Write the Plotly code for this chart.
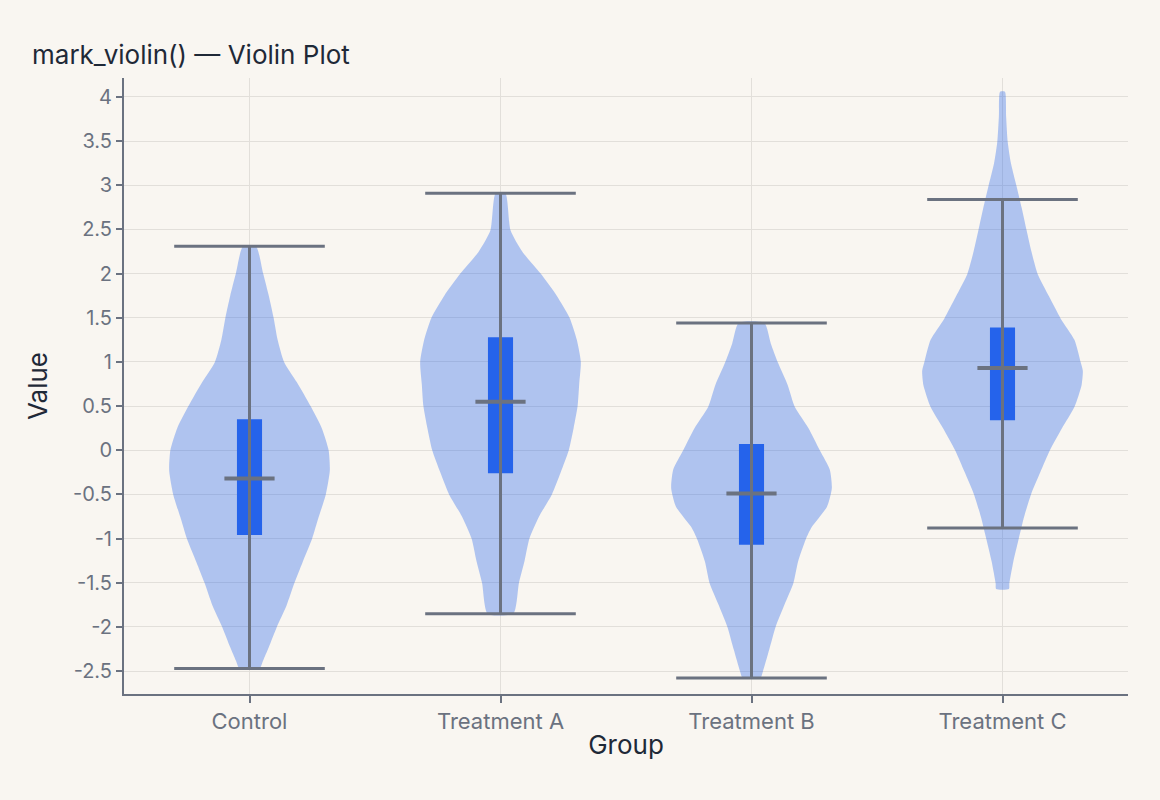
import plotly.graph_objects as go

# ---------------- data ----------------
groups = ["Control", "Treatment A", "Treatment B", "Treatment C"]

# violin density profiles: value levels (top -> bottom) and relative density (0..1)
control_levels = [2.31, 2.0, 1.75, 1.5, 1.25, 1.0, 0.77, 0.5, 0.25, 0.0, -0.23, -0.5, -0.76,
                  -1.0, -1.27, -1.5, -1.76, -2.0, -2.23, -2.38, -2.47]
control_density = [0.08, 0.17, 0.24, 0.30, 0.35, 0.43, 0.59, 0.76, 0.90, 0.985, 1.0, 0.95, 0.86,
                   0.78, 0.66, 0.56, 0.46, 0.34, 0.24, 0.17, 0.125]

treat_a_levels = [2.91, 2.49, 2.25, 2.0, 1.75, 1.5, 1.25, 1.0, 0.75, 0.5, 0.25, 0.0, -0.25,
                  -0.5, -0.75, -1.0, -1.25, -1.5, -1.85]
treat_a_density = [0.06, 0.125, 0.27, 0.50, 0.70, 0.86, 0.95, 1.0, 0.98, 0.96, 0.91, 0.85, 0.75,
                   0.64, 0.48, 0.36, 0.30, 0.23, 0.16]

treat_b_levels = [1.44, 1.21, 0.99, 0.74, 0.49, 0.25, 0.0, -0.22, -0.43, -0.64, -0.87, -1.01,
                  -1.26, -1.51, -1.75, -2.0, -2.26, -2.51, -2.58]
treat_b_density = [0.16, 0.24, 0.33, 0.45, 0.54, 0.71, 0.85, 0.975, 1.0, 0.94, 0.75, 0.675,
                   0.58, 0.52, 0.41, 0.30, 0.22, 0.14, 0.11]

treat_c_levels = [4.06, 3.78, 3.49, 3.25, 2.99, 2.74, 2.49, 2.25, 1.99, 1.74, 1.49, 1.25, 0.99,
                  0.9, 0.74, 0.49, 0.25, 0.0, -0.25, -0.5, -0.75, -1.01, -1.26, -1.51, -1.57]
treat_c_density = [0.03, 0.045, 0.065, 0.105, 0.175, 0.24, 0.30, 0.36, 0.44, 0.58, 0.725, 0.895,
                   0.975, 1.0, 0.985, 0.895, 0.74, 0.59, 0.47, 0.355, 0.27, 0.20, 0.135, 0.085, 0.08]

# box summary statistics
whisker_low = [-2.47, -1.85, -2.58, -0.88]
q1_values = [-0.96, -0.26, -1.07, 0.34]
median_values = [-0.32, 0.55, -0.49, 0.93]
q3_values = [0.35, 1.28, 0.07, 1.39]
whisker_high = [2.31, 2.91, 1.44, 2.84]

y_tick_values = [-2.5, -2, -1.5, -1, -0.5, 0, 0.5, 1, 1.5, 2, 2.5, 3, 3.5, 4]
y_tick_labels = ["-2.5", "-2", "-1.5", "-1", "-0.5", "0", "0.5", "1", "1.5", "2", "2.5", "3", "3.5", "4"]

# ---------------- styling ----------------
BG = "#f9f6f1"
VIOLIN_FILL = "rgba(37,99,235,0.35)"
BOX_FILL = "#2563eb"
GRAY = "#6b7280"
GRID = "#e2dfda"
DARK = "#1f2937"
FONT = "Inter"

VIOLIN_HALF = 0.32   # x-units at density 1
BOX_WIDTH = 0.10
MEDIAN_HALF = 0.10
CAP_HALF = 0.30

profiles = [
    (control_levels, control_density),
    (treat_a_levels, treat_a_density),
    (treat_b_levels, treat_b_density),
    (treat_c_levels, treat_c_density),
]

fig = go.Figure()

# violins
for i, (lv, dn) in enumerate(profiles):
    xs = [i + d * VIOLIN_HALF for d in reversed(dn)] + [i - d * VIOLIN_HALF for d in dn]
    ys = list(reversed(lv)) + list(lv)
    xs.append(xs[0])
    ys.append(ys[0])
    fig.add_trace(go.Scatter(
        x=xs, y=ys, mode="lines", fill="toself", fillcolor=VIOLIN_FILL,
        line=dict(width=0, shape="spline", smoothing=0.6, color="rgba(0,0,0,0)"),
        hoverinfo="skip", showlegend=False,
    ))

# whisker vertical lines
wx, wy = [], []
for i in range(len(groups)):
    wx += [i, i, None]
    wy += [whisker_low[i], whisker_high[i], None]
fig.add_trace(go.Scatter(x=wx, y=wy, mode="lines", line=dict(color=GRAY, width=3),
                         hoverinfo="skip", showlegend=False))

# IQR boxes
fig.add_trace(go.Bar(
    x=list(range(len(groups))),
    base=q1_values,
    y=[q3 - q1 for q1, q3 in zip(q1_values, q3_values)],
    width=BOX_WIDTH,
    marker=dict(color=BOX_FILL, line=dict(width=0)),
    hoverinfo="skip", showlegend=False,
))

# medians
mx, my = [], []
for i in range(len(groups)):
    mx += [i - MEDIAN_HALF, i + MEDIAN_HALF, None]
    my += [median_values[i], median_values[i], None]
fig.add_trace(go.Scatter(x=mx, y=my, mode="lines", line=dict(color=GRAY, width=4),
                         hoverinfo="skip", showlegend=False))

# caps
cx, cy = [], []
for i in range(len(groups)):
    cx += [i - CAP_HALF, i + CAP_HALF, None, i - CAP_HALF, i + CAP_HALF, None]
    cy += [whisker_high[i], whisker_high[i], None, whisker_low[i], whisker_low[i], None]
fig.add_trace(go.Scatter(x=cx, y=cy, mode="lines", line=dict(color=GRAY, width=3),
                         hoverinfo="skip", showlegend=False))

fig.update_layout(
    width=1160, height=800,
    paper_bgcolor=BG, plot_bgcolor=BG,
    margin=dict(l=124, r=32, t=78, b=106),
    font=dict(family=FONT, color=GRAY, size=20),
    title=dict(text="mark_violin() — Violin Plot", x=32 / 1160, xref="container",
               xanchor="left", y=1 - 55 / 800, yref="container", yanchor="middle",
               font=dict(family=FONT, size=26, color=DARK)),
    showlegend=False,
    barmode="overlay",
    xaxis=dict(
        range=[-0.5, 3.5],
        tickmode="array", tickvals=list(range(len(groups))), ticktext=groups,
        showgrid=True, gridcolor=GRID, gridwidth=1, zeroline=False,
        showline=True, linecolor=GRAY, linewidth=2,
        ticks="outside", ticklen=7, tickcolor=GRAY, tickwidth=2,
        tickfont=dict(family=FONT, size=22, color=GRAY),
        title=dict(text="Group", font=dict(family=FONT, size=26, color=DARK), standoff=2),
    ),
    yaxis=dict(
        range=[-2.76, 4.215],
        tickmode="array", tickvals=y_tick_values, ticktext=y_tick_labels,
        showgrid=True, gridcolor=GRID, gridwidth=1, zeroline=False,
        showline=True, linecolor=GRAY, linewidth=2,
        ticks="outside", ticklen=6, tickcolor=GRAY, tickwidth=2,
        tickfont=dict(family=FONT, size=20, color=GRAY),
        title=dict(text="Value", font=dict(family=FONT, size=26, color=DARK), standoff=18),
    ),
)

fig.write_html("out.html", config={"displayModeBar": False},
               post_script="document.body.style.margin='0';document.body.style.padding='0';")
